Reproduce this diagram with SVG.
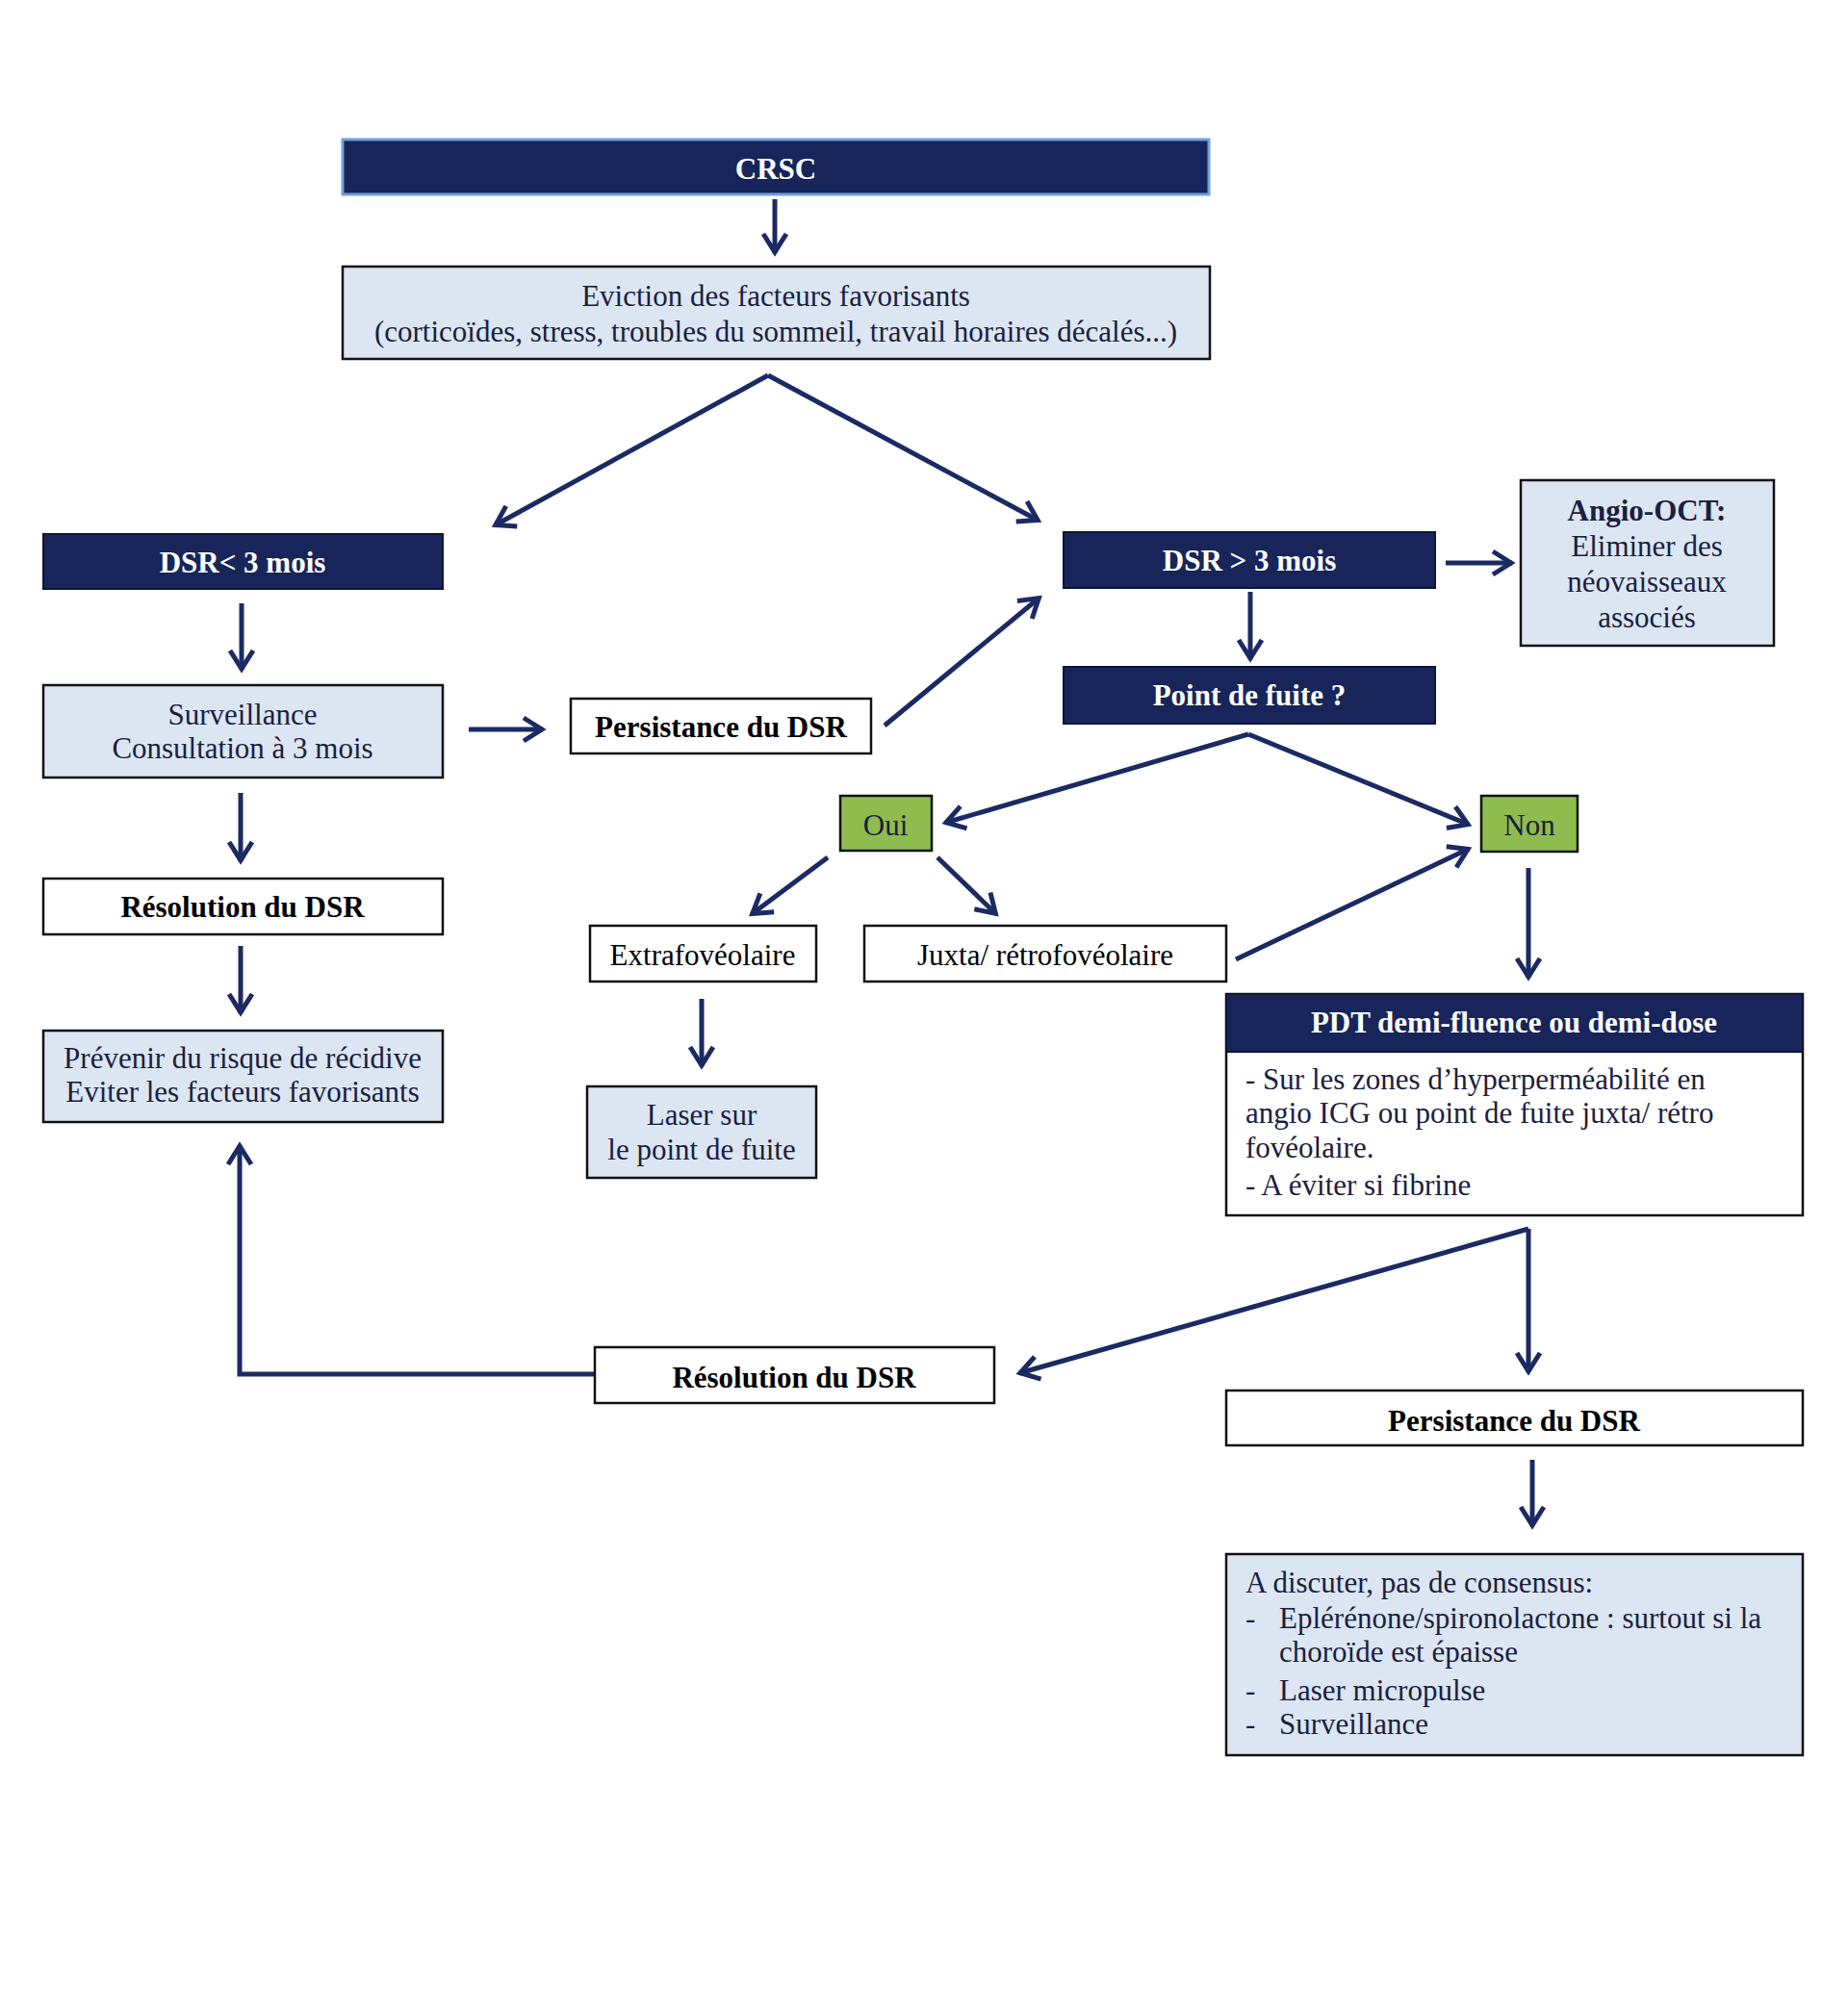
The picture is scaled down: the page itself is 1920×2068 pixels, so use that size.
<svg xmlns="http://www.w3.org/2000/svg" width="1920" height="2068" viewBox="0 0 1920 2068">
<style>
text{font-family:"Liberation Serif","Times New Roman",serif;font-size:31px;fill:#1a2040}
.c{text-anchor:middle}
.b{font-weight:bold}
.w{fill:#ffffff}
.k{fill:#000000}
.navy{fill:#17255a;stroke:#0d1535;stroke-width:2}
.lb{fill:#dce6f2;stroke:#111111;stroke-width:2.5}
.wh{fill:#ffffff;stroke:#111111;stroke-width:2.5}
.gr{fill:#8fbc4f;stroke:#111111;stroke-width:2.5}
.con{fill:none;stroke:#1b2a63;stroke-width:5;marker-end:url(#ah)}
</style>
<defs>
<marker id="ah" markerUnits="userSpaceOnUse" markerWidth="40" markerHeight="40" viewBox="-30 -20 40 40" refX="0" refY="0" orient="auto" overflow="visible">
<path d="M-20,-12 L-1,0 L-20,12" fill="none" stroke="#1b2a63" stroke-width="5"/>
</marker>
</defs>
<rect width="1920" height="2068" fill="#ffffff"/>
<g id="connectors">
<line class="con" x1="805" y1="207" x2="805" y2="263"/>
<line class="con" x1="798" y1="390" x2="514" y2="546"/>
<line class="con" x1="798" y1="390" x2="1079" y2="541"/>
<line class="con" x1="251" y1="627" x2="251" y2="696"/>
<line class="con" x1="487" y1="758" x2="564" y2="758"/>
<line class="con" x1="919" y1="754" x2="1080" y2="621"/>
<line class="con" x1="1502" y1="585" x2="1571" y2="585"/>
<line class="con" x1="1299" y1="615" x2="1299" y2="685"/>
<line class="con" x1="1297" y1="763" x2="982" y2="855"/>
<line class="con" x1="1297" y1="763" x2="1526" y2="857"/>
<line class="con" x1="860" y1="891" x2="781" y2="950"/>
<line class="con" x1="974" y1="891" x2="1035" y2="950"/>
<line class="con" x1="1284" y1="997" x2="1526" y2="882"/>
<line class="con" x1="1588" y1="902" x2="1588" y2="1016"/>
<line class="con" x1="250" y1="824" x2="250" y2="895"/>
<line class="con" x1="250" y1="983" x2="250" y2="1053"/>
<line class="con" x1="729" y1="1038" x2="729" y2="1108"/>
<line class="con" x1="1588" y1="1277" x2="1059" y2="1427"/>
<polyline class="con" points="1588,1277 1588,1426"/>
<polyline class="con" points="618,1428 249,1428 249,1190"/>
<line class="con" x1="1592" y1="1517" x2="1592" y2="1586"/>
</g>
<g id="n-crsc">
<rect x="356" y="145" width="900" height="57" fill="#17255a" stroke="#6fa0dc" stroke-width="3"/>
<text class="c b w" x="806" y="186">CRSC</text>
</g>
<g id="n-eviction">
<rect class="lb" x="356" y="277" width="901" height="96"/>
<text class="c" x="806" y="318">Eviction des facteurs favorisants</text>
<text class="c" x="806" y="355">(corticoïdes, stress, troubles du sommeil, travail horaires décalés...)</text>
</g>
<g id="n-dsr-lt3">
<rect class="navy" x="45" y="555" width="415" height="57"/>
<text class="c b w" x="252" y="595">DSR&lt; 3 mois</text>
</g>
<g id="n-surveillance">
<rect class="lb" x="45" y="712" width="415" height="96"/>
<text class="c" x="252" y="753">Surveillance</text>
<text class="c" x="252" y="788">Consultation à 3 mois</text>
</g>
<g id="n-persist1">
<rect class="wh" x="593" y="726" width="312" height="57"/>
<text class="c b k" x="749" y="766">Persistance du DSR</text>
</g>
<g id="n-dsr-gt3">
<rect class="navy" x="1105" y="553" width="386" height="58"/>
<text class="c b w" x="1298" y="593">DSR &gt; 3 mois</text>
</g>
<g id="n-angio">
<rect class="lb" x="1580" y="499" width="263" height="172"/>
<text class="c b" x="1711" y="541">Angio-OCT:</text>
<text class="c" x="1711" y="578">Eliminer des</text>
<text class="c" x="1711" y="615">néovaisseaux</text>
<text class="c" x="1711" y="652">associés</text>
</g>
<g id="n-point">
<rect class="navy" x="1105" y="693" width="386" height="59"/>
<text class="c b w" x="1298" y="733">Point de fuite ?</text>
</g>
<g id="n-oui">
<rect class="gr" x="873" y="827" width="95" height="57"/>
<text class="c" x="920" y="868">Oui</text>
</g>
<g id="n-non">
<rect class="gr" x="1539" y="827" width="100" height="58"/>
<text class="c" x="1589" y="868">Non</text>
</g>
<g id="n-extra">
<rect class="wh" x="613" y="962" width="235" height="58"/>
<text class="c k" x="730" y="1003">Extrafovéolaire</text>
</g>
<g id="n-juxta">
<rect class="wh" x="898" y="962" width="376" height="58"/>
<text class="c k" x="1086" y="1003">Juxta/ rétrofovéolaire</text>
</g>
<g id="n-resol1">
<rect class="wh" x="45" y="913" width="415" height="58"/>
<text class="c b k" x="252" y="953">Résolution du DSR</text>
</g>
<g id="n-prevenir">
<rect class="lb" x="45" y="1071" width="415" height="95"/>
<text class="c" x="252" y="1110">Prévenir du risque de récidive</text>
<text class="c" x="252" y="1145">Eviter les facteurs favorisants</text>
</g>
<g id="n-laser">
<rect class="lb" x="610" y="1129" width="238" height="95"/>
<text class="c" x="729" y="1169">Laser sur</text>
<text class="c" x="729" y="1205">le point de fuite</text>
</g>
<g id="n-pdt">
<rect class="wh" x="1274" y="1033" width="599" height="230"/>
<rect class="navy" x="1274" y="1033" width="599" height="60"/>
<text class="c b w" x="1573" y="1073">PDT demi-fluence ou demi-dose</text>
<text x="1294" y="1132">- Sur les zones d’hyperperméabilité en</text>
<text x="1294" y="1167">angio ICG ou point de fuite juxta/ rétro</text>
<text x="1294" y="1203">fovéolaire.</text>
<text x="1294" y="1242">- A éviter si fibrine</text>
</g>
<g id="n-resol2">
<rect class="wh" x="618" y="1400" width="415" height="58"/>
<text class="c b k" x="825" y="1442">Résolution du DSR</text>
</g>
<g id="n-persist2">
<rect class="wh" x="1274" y="1445" width="599" height="57"/>
<text class="c b k" x="1573" y="1487">Persistance du DSR</text>
</g>
<g id="n-discuter">
<rect class="lb" x="1274" y="1615" width="599" height="209"/>
<text x="1294" y="1655">A discuter, pas de consensus:</text>
<text x="1294" y="1692">-</text>
<text x="1329" y="1692">Eplérénone/spironolactone : surtout si la</text>
<text x="1329" y="1727">choroïde est épaisse</text>
<text x="1294" y="1767">-</text>
<text x="1329" y="1767">Laser micropulse</text>
<text x="1294" y="1802">-</text>
<text x="1329" y="1802">Surveillance</text>
</g>
</svg>
